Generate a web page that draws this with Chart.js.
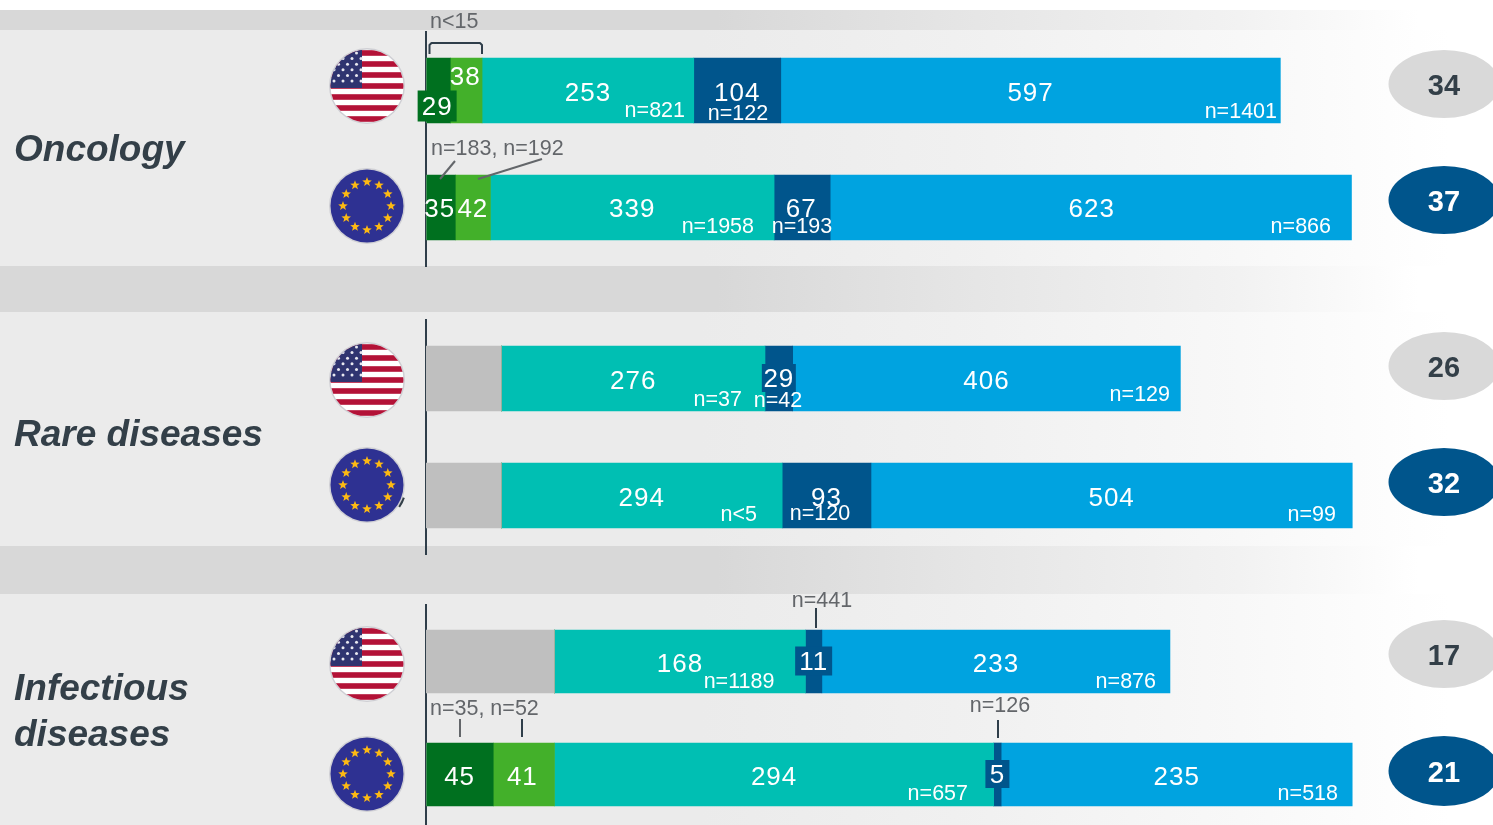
<!DOCTYPE html>
<html>
<head>
<meta charset="utf-8">
<title>Chart</title>
<script src="https://cdn.jsdelivr.net/npm/chart.js@4"></script>
<style>
  html, body { margin: 0; padding: 0; width: 1493px; height: 825px; overflow: hidden; background: #fff; }
  .band, .panel { position: absolute; left: 0; width: 1493px; }
  .band { background: linear-gradient(90deg, #d8d8d8 0%, #d8d8d8 48%, #e5e5e5 64%, #f2f2f2 83%, #ffffff 95%); }
  .panel { background: linear-gradient(90deg, #ebebeb 0%, #ebebeb 47%, #f0f0f0 64%, #f8f8f8 83%, #ffffff 97%); }
  canvas { position: absolute; left: 0; top: 0; }
</style>
</head>
<body>
<div class="band" style="top:10px;height:20px"></div>
<div class="panel" style="top:30px;height:236px"></div>
<div class="band" style="top:266px;height:46px"></div>
<div class="panel" style="top:312px;height:234px"></div>
<div class="band" style="top:546px;height:48px"></div>
<div class="panel" style="top:594px;height:231px"></div>
<canvas id="oncology" width="1493" height="831"></canvas>
<canvas id="rare" width="1493" height="831"></canvas>
<canvas id="infectious" width="1493" height="831"></canvas>
<script>
'use strict';
const regions = ['US', 'EU'];
const segmentNames = ['No data', 'Dark green', 'Green', 'Teal', 'Navy', 'Blue'];

// one value per segment, the grey part has no printed number
const oncologyUS = [0, 29, 38, 253, 104, 597];
const oncologyEU = [0, 35, 42, 339, 67, 623];
const rareUS = [79, 0, 0, 276, 29, 406];
const rareEU = [79, 0, 0, 294, 93, 504];
const infectiousUS = [86, 0, 0, 168, 11, 233];
const infectiousEU = [0, 45, 41, 294, 5, 235];

const oncologyUSn = ['n=821', 'n=122', 'n=1401'];
const oncologyEUn = ['n=1958', 'n=193', 'n=866'];
const rareUSn = ['n=37', 'n=42', 'n=129'];
const rareEUn = ['n<5', 'n=120', 'n=99'];
const infectiousUSn = ['n=1189', 'n=876'];
const infectiousEUn = ['n=657', 'n=518'];

const oncologyScores = [34, 37];
const rareScores = [26, 32];
const infectiousScores = [17, 21];

const colors = ['#bfbfbf', '#00701f', '#43b02a', '#00bfb3', '#00558c', '#00a3e0'];
const darkText = '#333f48';
const greyText = '#63666a';
const fontName = '"Liberation Sans", Arial, sans-serif';
const smallFont = '21.5px ' + fontName;

function drawText(ctx, text, x, y, font, color, align) {
  ctx.font = font;
  ctx.fillStyle = color;
  ctx.textAlign = align || 'center';
  ctx.textBaseline = 'middle';
  ctx.fillText(text, x, y);
}

function drawLine(ctx, points, color) {
  ctx.strokeStyle = color;
  ctx.lineWidth = 2;
  ctx.beginPath();
  points.forEach((p, i) => (i ? ctx.lineTo(p[0], p[1]) : ctx.moveTo(p[0], p[1])));
  ctx.stroke();
}

function drawStar(ctx, x, y, r) {
  ctx.beginPath();
  for (let i = 0; i < 10; i++) {
    let a = -Math.PI / 2 + i * Math.PI / 5;
    let d = i % 2 ? r * 0.42 : r;
    ctx.lineTo(x + d * Math.cos(a), y + d * Math.sin(a));
  }
  ctx.closePath();
  ctx.fill();
}

function flagCircle(ctx, cx, cy, paint) {
  ctx.save();
  ctx.beginPath();
  ctx.arc(cx, cy, 38, 0, Math.PI * 2);
  ctx.fillStyle = '#cfcfd4';
  ctx.fill();
  ctx.beginPath();
  ctx.arc(cx, cy, 36.5, 0, Math.PI * 2);
  ctx.clip();
  paint();
  ctx.restore();
}

function drawUSFlag(ctx, cx, cy) {
  flagCircle(ctx, cx, cy, () => {
    ctx.fillStyle = '#ffffff';
    ctx.fillRect(cx - 38, cy - 38, 76, 76);
    ctx.fillStyle = '#b31237';
    for (let i = -3; i <= 3; i++) {
      ctx.fillRect(cx - 38, cy + i * 11 - 2.8, 76, 5.6);
    }
    ctx.fillStyle = '#2f3470';
    ctx.fillRect(cx - 38, cy - 38, 33, 40);
    ctx.fillStyle = '#e8e8f0';
    for (let r = 0; r < 6; r++) {
      let columns = r % 2 ? 4 : 3;
      for (let c = 0; c < columns; c++) {
        ctx.beginPath();
        ctx.arc(cx - 33 + c * 9 + (r % 2 ? 0 : 4.5), cy - 33 + r * 5.6, 1.5, 0, Math.PI * 2);
        ctx.fill();
      }
    }
  });
}

function drawEUFlag(ctx, cx, cy) {
  flagCircle(ctx, cx, cy, () => {
    ctx.fillStyle = '#2e3192';
    ctx.fillRect(cx - 38, cy - 38, 76, 76);
    ctx.fillStyle = '#fdb913';
    for (let i = 0; i < 12; i++) {
      let a = i * Math.PI / 6;
      drawStar(ctx, cx + 24 * Math.cos(a), cy + 24 * Math.sin(a), 5);
    }
  });
}

function drawScore(ctx, value, cy, ry, isEU) {
  ctx.beginPath();
  ctx.ellipse(1444, cy, 55.5, ry, 0, 0, Math.PI * 2);
  ctx.fillStyle = isEU ? colors[4] : '#d9d9d9';
  ctx.fill();
  drawText(ctx, String(value), 1444, cy + 3, 'bold 29px ' + fontName, isEU ? '#ffffff' : darkText);
}

// printed numbers sit in the middle of their segment unless shifted here
function drawValues(chart, panel) {
  const ctx = chart.ctx;
  ctx.save();
  ctx.letterSpacing = '1px';
  panel.rows.forEach((row, r) => {
    row.forEach((value, d) => {
      if (d === 0 || !value) return;
      const bar = chart.getDatasetMeta(d).data[r];
      const shift = panel.shifts[r + '-' + d] || [0, 1.5];
      const x = (bar.x + bar.base) / 2 + shift[0];
      const y = bar.y + shift[1];
      const box = panel.boxes[r + '-' + d];
      if (box) {
        ctx.fillStyle = colors[d];
        ctx.fillRect(x - box[0], y - box[1] / 2, box[0] * 2, box[1]);
      }
      drawText(ctx, String(value), x, y + 2, '26px ' + fontName, '#ffffff');
    });
  });
  ctx.restore();
}

function drawSampleSizes(chart, panel) {
  panel.sizes.forEach((s) => {
    drawText(chart.ctx, s[0], s[1], s[2], smallFont, '#ffffff', s[3]);
  });
}

const panelPlugin = {
  id: 'panelPlugin',
  afterDraw(chart, args, panel) {
    const ctx = chart.ctx;
    if (panel.extrasBehind) panel.extrasBehind(ctx);
    panel.flagY.forEach((y, i) => (i === 0 ? drawUSFlag(ctx, 367, y) : drawEUFlag(ctx, 367, y)));
    panel.scoreY.forEach((y, i) => drawScore(ctx, panel.scores[i], y, panel.scoreR[i], i === 1));
    panel.title.forEach((t, i) => {
      drawText(ctx, t, 14, panel.titleY + i * 46, 'italic bold 37px ' + fontName, darkText, 'left');
    });
    drawValues(chart, panel);
    drawSampleSizes(chart, panel);
    if (panel.extras) panel.extras(ctx);
  },
};

function makeChart(id, rows, axisMax, thickness, top, bottom, panel) {
  const datasets = segmentNames.map((name, i) => ({
    label: name,
    data: [rows[0][i], rows[1][i]],
    backgroundColor: colors[i],
    barThickness: thickness,
  }));
  panel.rows = rows;
  return new Chart(document.getElementById(id), {
    type: 'bar',
    data: { labels: regions, datasets: datasets },
    plugins: [panelPlugin],
    options: {
      indexAxis: 'y',
      responsive: false,
      animation: false,
      layout: { padding: { left: 426, right: 93, top: top, bottom: 831 - bottom } },
      plugins: { legend: { display: false }, tooltip: { enabled: false }, panelPlugin: panel },
      scales: {
        x: { stacked: true, min: 0, max: axisMax, display: false },
        y: {
          stacked: true,
          grid: { display: false, drawTicks: false },
          border: { color: '#2f3e4a', width: 2 },
          ticks: { display: false },
        },
      },
    },
  });
}

makeChart('oncology', [oncologyUS, oncologyEU], 1164, 65, 32, 266, {
  title: ['Oncology'],
  titleY: 151,
  flagY: [86, 206],
  scoreY: [84, 200],
  scoreR: [34, 34],
  scores: oncologyScores,
  shifts: { '0-1': [-1, 15.5], '0-2': [-1, -14.5], '1-1': [-1, 0.5], '1-2': [0, 0.5], '1-3': [0, 0.5], '1-4': [-1, 0.5], '1-5': [1, 0.5] },
  boxes: { '0-1': [19.5, 31] },
  sizes: [
    [oncologyUSn[0], 685, 111, 'right'],
    [oncologyUSn[1], 738, 114, 'center'],
    [oncologyUSn[2], 1277, 112, 'right'],
    [oncologyEUn[0], 754, 227, 'right'],
    [oncologyEUn[1], 802, 227, 'center'],
    [oncologyEUn[2], 1331, 227, 'right'],
  ],
  extras(ctx) {
    drawText(ctx, 'n<15', 430, 22, smallFont, greyText, 'left');
    ctx.lineJoin = 'round';
    drawLine(ctx, [[429.5, 54], [429.5, 45], [431.5, 43], [480, 43], [482, 45], [482, 54]], '#2f3e4a');
    drawText(ctx, 'n=183, n=192', 431, 149, smallFont, greyText, 'left');
    drawLine(ctx, [[455, 161], [440, 179]], greyText);
    drawLine(ctx, [[542, 159], [478, 179]], greyText);
  },
});

makeChart('rare', [rareUS, rareEU], 1020, 65, 320, 554, {
  title: ['Rare diseases'],
  titleY: 436,
  flagY: [380, 485],
  scoreY: [366, 482],
  scoreR: [34, 34],
  scores: rareScores,
  shifts: { '0-4': [0, -0.5] },
  boxes: { '0-4': [17, 28] },
  sizes: [
    [rareUSn[0], 742, 400, 'right'],
    [rareUSn[1], 778, 401, 'center'],
    [rareUSn[2], 1170, 395, 'right'],
    [rareEUn[0], 757, 515, 'right'],
    [rareEUn[1], 820, 514, 'center'],
    [rareEUn[2], 1336, 515, 'right'],
  ],
  // small dark sliver peeking out behind the lower EU flag
  extrasBehind(ctx) {
    ctx.beginPath();
    ctx.arc(367, 485, 38, 0.33, 0.6);
    ctx.strokeStyle = '#333f48';
    ctx.lineWidth = 4;
    ctx.stroke();
  },
});

makeChart('infectious', [infectiousUS, infectiousEU], 652, 63, 605, 831, {
  title: ['Infectious', 'diseases'],
  titleY: 690,
  flagY: [664, 774],
  scoreY: [654, 771],
  scoreR: [34, 35],
  scores: infectiousScores,
  shifts: { '0-4': [0, -0.5], '1-2': [-1.5, 1.5], '1-4': [0, -0.5] },
  boxes: { '0-4': [18.5, 29], '1-4': [12, 28] },
  sizes: [
    [infectiousUSn[0], 739, 682, 'center'],
    [infectiousUSn[1], 1156, 682, 'right'],
    [infectiousEUn[0], 968, 794, 'right'],
    [infectiousEUn[1], 1338, 794, 'right'],
  ],
  extras(ctx) {
    drawText(ctx, 'n=441', 822, 601, smallFont, greyText);
    drawLine(ctx, [[816, 608], [816, 628]], '#2f3e4a');
    drawText(ctx, 'n=35, n=52', 430, 709, smallFont, greyText, 'left');
    drawLine(ctx, [[460, 719], [460, 737]], greyText);
    drawLine(ctx, [[522, 719], [522, 737]], '#2f3e4a');
    drawText(ctx, 'n=126', 1000, 706, smallFont, greyText);
    drawLine(ctx, [[998, 720], [998, 738]], '#2f3e4a');
  },
});
</script>
</body>
</html>
